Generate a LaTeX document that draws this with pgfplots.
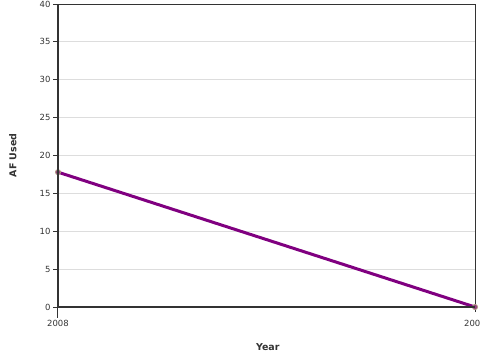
\documentclass[border=0pt]{standalone}
\usepackage{pgfplots}
\pgfplotsset{compat=1.18}
\usepackage{fontspec}
\setmainfont{DejaVu Sans}
\definecolor{axisgray}{HTML}{333333}
\definecolor{gridgray}{HTML}{DDDDDD}
\definecolor{lineviolet}{HTML}{800080}
\definecolor{marktan}{HTML}{B09A80}
\begin{document}
\begin{tikzpicture}
\useasboundingbox (-58bp,-53bp) rectangle (422bp,307bp);
\begin{axis}[
  at={(0,0)}, anchor=south west,
  scale only axis,
  width=417bp, height=303bp,
  xmin=2008, xmax=2009,
  ymin=0, ymax=40,
  xtick={2008,2009},
  xticklabels={2008,2009},
  ytick={0,5,...,40},
  ymajorgrids,
  grid style={gridgray, line width=0.8bp},
  axis line style={axisgray, line width=1bp},
  tick style={axisgray, line width=1bp},
  tick align=outside,
  major tick length=5bp,
  xtick pos=bottom, ytick pos=left,
  x tick label style={font=\fontsize{8.5}{9}\selectfont, text=axisgray, yshift=-5bp},
  y tick label style={font=\fontsize{8.5}{9}\selectfont, text=axisgray, xshift=1bp},
  /pgf/number format/assume math mode=true,
  /pgf/number format/1000 sep={},
  xlabel={\textbf{Year}},
  ylabel={\textbf{AF Used}},
  label style={font=\fontsize{9.5}{11}\selectfont, text=axisgray},
  xlabel style={at={(axis description cs:0.503,0)}, anchor=center, yshift=-40bp},
  ylabel style={at={(axis description cs:-0.108,0.5)}, anchor=center, rotate=0},
  clip=false,
  extra description/.code={
    \draw[axisgray, line width=2bp] (axis cs:2008,0) -- (axis cs:2008,40);
    \draw[axisgray, line width=2bp] (axis cs:2008,0) -- (axis cs:2009,0);
    \draw[axisgray, line width=1bp] (axis cs:2008,-0.7) -- (axis cs:2008,-1.4);
  },
]
\addplot[lineviolet, line width=3bp, mark=*, mark size=2.6bp,
  mark options={fill=lineviolet!60!marktan, draw=marktan, line width=0.8bp}]
  coordinates {(2008,17.8) (2009,0)};
\end{axis}
\end{tikzpicture}
\end{document}
